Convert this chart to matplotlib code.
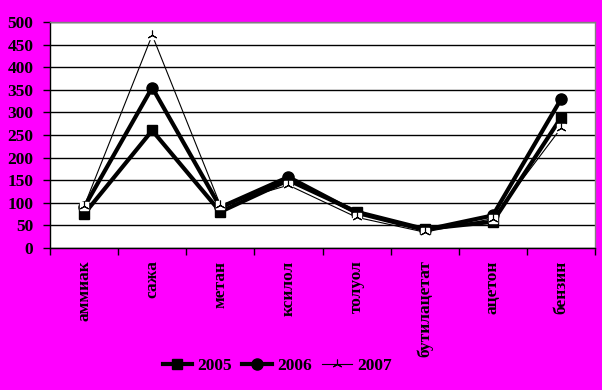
import matplotlib
matplotlib.use("Agg")
import matplotlib.pyplot as plt
from matplotlib.ticker import FixedLocator, NullFormatter
from matplotlib.lines import Line2D

categories = ["аммиак", "сажа", "метан", "ксилол", "толуол", "бутилацетат", "ацетон", "бензин"]
y2005 = [75, 260, 80, 150, 80, 42, 58, 288]
y2006 = [90, 355, 90, 157, 78, 40, 72, 329]
y2007 = [92, 471, 95, 139, 68, 35, 65, 265]
yticks = [0, 50, 100, 150, 200, 250, 300, 350, 400, 450, 500]

plt.rcParams['font.family'] = ['Liberation Serif', 'DejaVu Serif']
plt.rcParams['font.weight'] = 'bold'

MAG = '#FF00FF'
FS = 12.5
fig = plt.figure(figsize=(6.02, 3.90), dpi=100, facecolor=MAG)
ax = fig.add_axes([50/602, 1-248/390, 545/602, 226/390])
ax.set_facecolor('white')

x = list(range(len(categories)))
ax.plot(x, y2005, color='black', lw=3, marker='s', ms=7, mfc='black', mec='black', zorder=3)
ax.plot(x, y2006, color='black', lw=3, marker='o', ms=8, mfc='black', mec='black', zorder=4)
ax.plot(x, y2007, color='black', lw=0.8, zorder=5)
ax.plot(x, y2007, ls='none', marker='s', ms=6, mfc='white', mec='white', zorder=6)
ax.plot(x, y2007, ls='none', marker=(3, 2, 0), ms=7, mec='black', mew=0.8, zorder=7)

h1 = Line2D([], [], color='black', lw=3, marker='s', ms=7)
h2 = Line2D([], [], color='black', lw=3, marker='o', ms=8)
h3 = Line2D([], [], color='black', lw=0.8, marker=(3, 2, 0), ms=7, mec='black', mew=0.8)

ax.set_xlim(-0.5, len(categories) - 0.5)
ax.set_ylim(0, 500)
ax.set_yticks(yticks)
ax.yaxis.grid(True, color='black', lw=1)
ax.set_axisbelow(True)
ax.tick_params(axis='y', direction='out', length=5, width=1, labelsize=FS, pad=7)

ax.xaxis.set_major_locator(FixedLocator([i - 0.5 for i in range(len(categories) + 1)]))
ax.xaxis.set_major_formatter(NullFormatter())
ax.xaxis.set_minor_locator(FixedLocator(x))
ax.set_xticklabels(categories, minor=True, rotation=90, fontsize=FS, va='top', ha='center')
ax.tick_params(axis='x', which='major', direction='out', length=5, width=1)
ax.tick_params(axis='x', which='minor', length=0, pad=9)

for s in ['left', 'bottom']:
    ax.spines[s].set_color('black')
    ax.spines[s].set_linewidth(1)
for s in ['top', 'right']:
    ax.spines[s].set_color('#808080')
    ax.spines[s].set_linewidth(1)

fig.legend([h1, h2, h3], ['2005', '2006', '2007'], loc='center', bbox_to_anchor=(277/602, 1-366/390),
           ncol=3, frameon=False, fontsize=FS, handlelength=1.7, columnspacing=0.6, handletextpad=0.3)

fig.savefig('out.png', dpi=100, facecolor=MAG)
